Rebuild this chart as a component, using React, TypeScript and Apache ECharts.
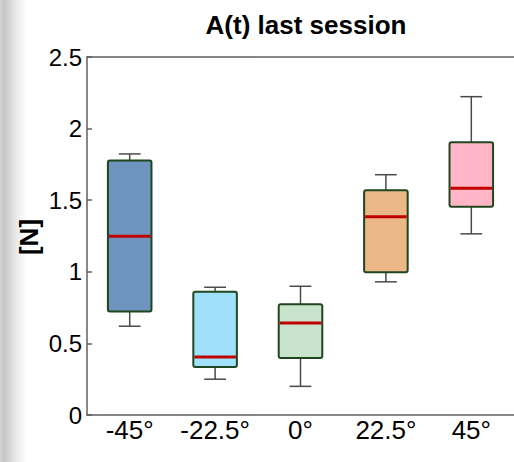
import React, { useEffect, useRef } from "react";
import * as echarts from "echarts";

const categories = ["-45°", "-22.5°", "0°", "22.5°", "45°"];
const whiskerLow = [0.62, 0.25, 0.2, 0.93, 1.265];
const q1 = [0.722, 0.335, 0.398, 0.997, 1.455];
const median = [1.248, 0.405, 0.642, 1.385, 1.583];
const q3 = [1.778, 0.861, 0.773, 1.569, 1.904];
const whiskerHigh = [1.823, 0.892, 0.899, 1.678, 2.223];
const yTicks = [0, 0.5, 1, 1.5, 2, 2.5];
const boxColors = ["#7094c0", "#a0e0fa", "#c9e4cd", "#edb887", "#ffb6c6"];

const FONT = '"Liberation Sans", Arial, sans-serif';

export default function App() {
  const ref = useRef<HTMLDivElement>(null);
  useEffect(() => {
    if (!ref.current) return;
    const chart = echarts.init(ref.current, undefined, { renderer: "svg" });
    const data = categories.map((_, i) => [i, whiskerLow[i], q1[i], median[i], q3[i], whiskerHigh[i]]);
    const axisColor = "#5f5f5f";
    chart.setOption({
      animation: false,
      backgroundColor: "#ffffff",
      graphic: [
        {
          type: "rect",
          shape: { x: 0, y: 0, width: 27, height: 462 },
          style: {
            fill: new echarts.graphic.LinearGradient(0, 0, 1, 0, [
              { offset: 0, color: "#d4d4d4" },
              { offset: 0.15, color: "#c6c6c6" },
              { offset: 0.55, color: "#e6e6e6" },
              { offset: 1, color: "#ffffff" },
            ]),
          },
          silent: true,
          z: -10,
        },
        {
          type: "text",
          x: 306,
          y: 25,
          style: {
            text: "A(t) last session",
            font: `bold 26px ${FONT}`,
            fill: "#000",
            align: "center",
            verticalAlign: "middle",
          },
        },
        {
          type: "text",
          x: 29,
          y: 237,
          rotation: Math.PI / 2,
          style: {
            text: "[N]",
            font: `bold 26px ${FONT}`,
            fill: "#000",
            align: "center",
            verticalAlign: "middle",
          },
        },
      ],
      grid: { left: 87, top: 57, width: 440, height: 358 },
      xAxis: [
        {
          type: "category",
          data: categories,
          position: "bottom",
          axisLine: { lineStyle: { color: axisColor, width: 1.5 } },
          axisTick: { inside: true, alignWithLabel: true, length: 5, lineStyle: { color: axisColor, width: 1.5 } },
          axisLabel: { color: "#000", fontSize: 26, fontFamily: FONT, margin: 2, interval: 0, hideOverlap: false },
          splitLine: { show: false },
        },
        {
          type: "category",
          data: categories,
          position: "top",
          axisLine: { lineStyle: { color: axisColor, width: 1.5 } },
          axisTick: { inside: true, alignWithLabel: true, length: 5, lineStyle: { color: axisColor, width: 1.5 } },
          axisLabel: { show: false },
          splitLine: { show: false },
        },
      ],
      yAxis: {
        type: "value",
        min: yTicks[0],
        max: yTicks[yTicks.length - 1],
        interval: 0.5,
        axisLine: { show: true, lineStyle: { color: axisColor, width: 1.5 } },
        axisTick: { show: true, inside: true, length: 5, lineStyle: { color: axisColor, width: 1.5 } },
        axisLabel: { color: "#000", fontSize: 24, fontFamily: FONT, margin: 5 },
        splitLine: { show: false },
      },
      series: [
        {
          type: "custom",
          xAxisIndex: 0,
          encode: { x: 0, y: [1, 2, 3, 4, 5] },
          data,
          renderItem: (params: any, api: any) => {
            const i = api.value(0);
            const lo = api.coord([i, api.value(1)]);
            const b = api.coord([i, api.value(2)]);
            const m = api.coord([i, api.value(3)]);
            const t = api.coord([i, api.value(4)]);
            const hi = api.coord([i, api.value(5)]);
            const band = api.size([1, 0])[0];
            const bw = band * 0.51;
            const cw = bw / 2;
            const cx = b[0];
            const wStyle = { stroke: "#4a4a4a", lineWidth: 1.5 };
            return {
              type: "group",
              children: [
                { type: "line", shape: { x1: cx, y1: hi[1], x2: cx, y2: t[1] }, style: wStyle },
                { type: "line", shape: { x1: cx - cw / 2, y1: hi[1], x2: cx + cw / 2, y2: hi[1] }, style: wStyle },
                { type: "line", shape: { x1: cx, y1: b[1], x2: cx, y2: lo[1] }, style: wStyle },
                { type: "line", shape: { x1: cx - cw / 2, y1: lo[1], x2: cx + cw / 2, y2: lo[1] }, style: wStyle },
                {
                  type: "rect",
                  shape: { x: cx - bw / 2, y: t[1], width: bw, height: b[1] - t[1], r: 2 },
                  style: { fill: boxColors[params.dataIndex], stroke: "#1f461f", lineWidth: 2 },
                },
                {
                  type: "line",
                  shape: { x1: cx - bw / 2 + 1, y1: m[1], x2: cx + bw / 2 - 1, y2: m[1] },
                  style: { stroke: "#c00000", lineWidth: 3 },
                },
              ],
            };
          },
        },
      ],
    });
    return () => chart.dispose();
  }, []);
  return (
    <div
      ref={ref}
      style={{ position: "fixed", left: 0, top: 0, width: 514, height: 462 }}
    />
  );
}
